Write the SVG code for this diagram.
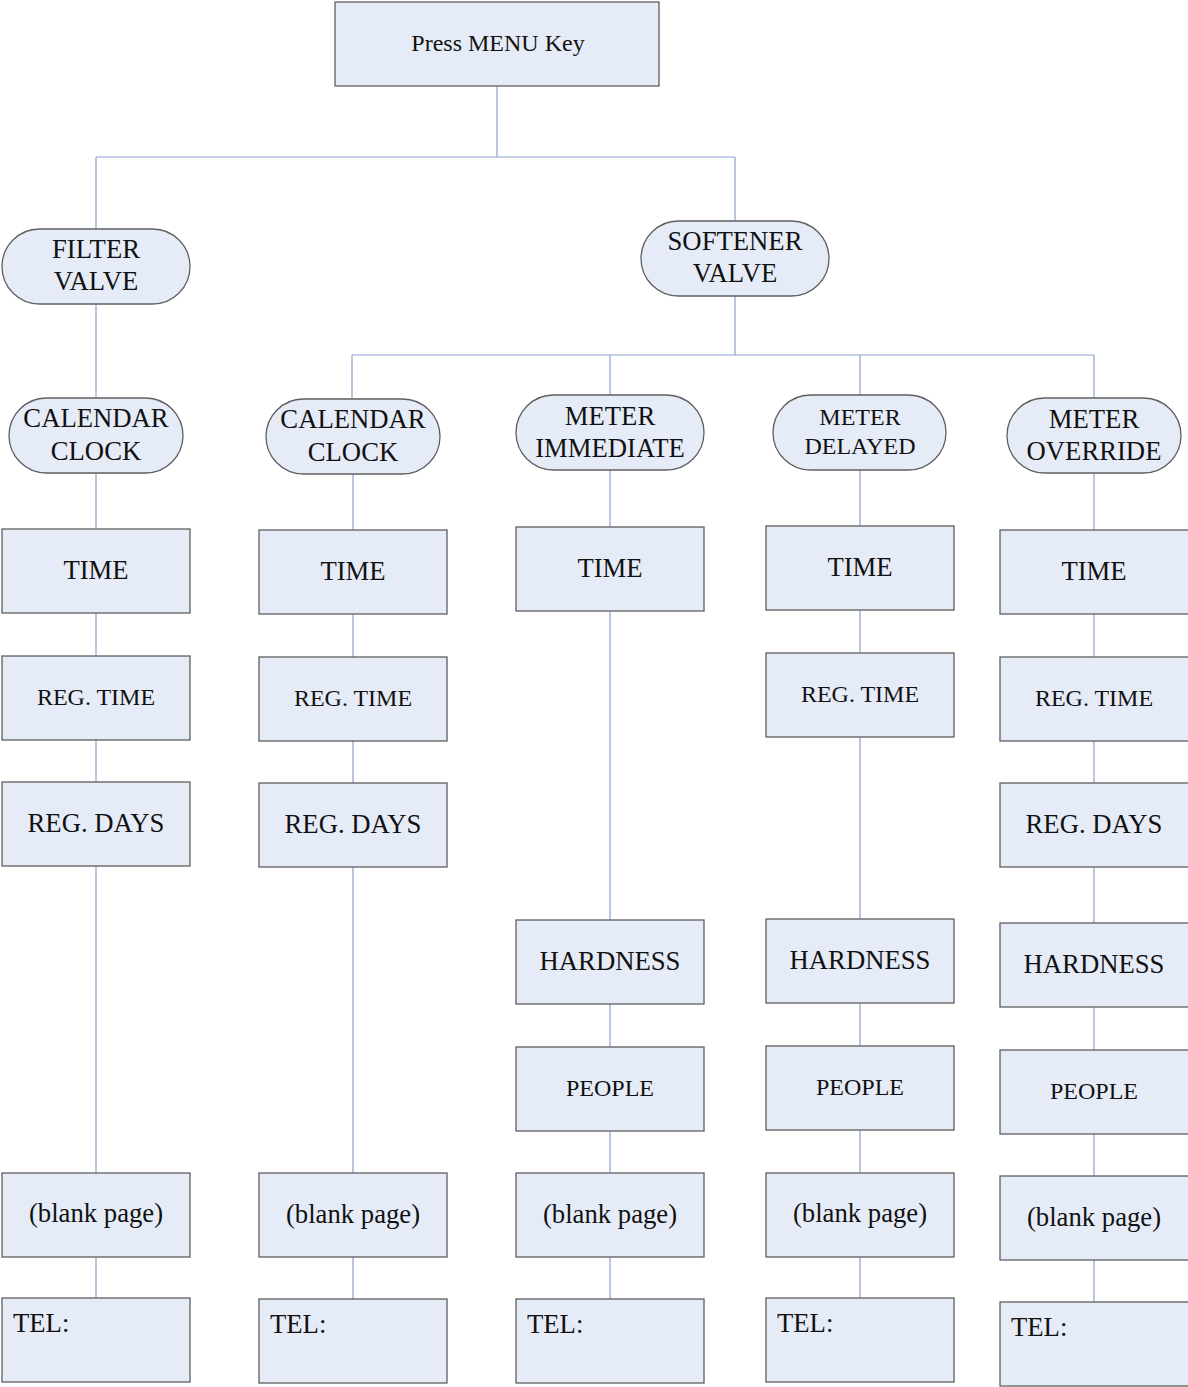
<svg xmlns="http://www.w3.org/2000/svg" width="1188" height="1387" viewBox="0 0 1188 1387">
<style>
.b{fill:#E6ECF7;stroke:#5F5F5F;stroke-width:1.3}
.t{font-family:"Liberation Serif","Times New Roman",serif;font-size:26.7px;fill:#111;text-anchor:middle}
.s{font-size:24px}
.l{text-anchor:start}
.c{stroke:#8EA2CF;stroke-width:1.2;fill:none}
</style>
<rect width="1188" height="1387" fill="#fff"/>
<g id="connectors">
<path class="c" d="M497 86V157M96 157H735M96 157V229M735 157V221"/>
<path class="c" d="M96 304V398M735 296V355M352 355H1094M352 355V399M610 355V395M860 355V395M1094 355V398"/>
<path class="c" d="M96 473V529M96 613V656M96 740V782M96 866V1173M96 1257V1298"/>
<path class="c" d="M353 474V530M353 614V657M353 741V783M353 867V1173M353 1257V1299"/>
<path class="c" d="M610 470V527M610 611V920M610 1004V1047M610 1131V1173M610 1257V1299"/>
<path class="c" d="M860 470V526M860 610V653M860 737V919M860 1003V1046M860 1130V1173M860 1257V1298"/>
<path class="c" d="M1094 473V530M1094 614V657M1094 741V783M1094 867V923M1094 1007V1050M1094 1134V1176M1094 1260V1302"/>
</g>
<g id="menu"><rect class="b" x="335" y="2" width="324" height="84"/><text class="t s" x="498" y="51">Press MENU Key</text></g>
<g id="filter"><rect class="b" x="2" y="229" width="188" height="75" rx="37.5"/><text class="t" x="96" y="258">FILTER</text><text class="t" x="96" y="290">VALVE</text></g>
<g id="softener"><rect class="b" x="641" y="221" width="188" height="75" rx="37.5"/><text class="t" x="735" y="250">SOFTENER</text><text class="t" x="735" y="282">VALVE</text></g>
<g id="cal1"><rect class="b" x="9" y="398" width="174" height="75" rx="37.5"/><text class="t" x="96" y="427">CALENDAR</text><text class="t" x="96" y="460">CLOCK</text></g>
<g id="cal2"><rect class="b" x="266" y="399" width="174" height="75" rx="37.5"/><text class="t" x="353" y="428">CALENDAR</text><text class="t" x="353" y="461">CLOCK</text></g>
<g id="metimm"><rect class="b" x="516" y="395" width="188" height="75" rx="37.5"/><text class="t" x="610" y="425">METER</text><text class="t" x="610" y="457">IMMEDIATE</text></g>
<g id="metdel"><rect class="b" x="773" y="395" width="173" height="75" rx="37.5"/><text class="t s" x="860" y="425">METER</text><text class="t s" x="860" y="454">DELAYED</text></g>
<g id="metovr"><rect class="b" x="1007" y="398" width="174" height="75" rx="37.5"/><text class="t" x="1094" y="428">METER</text><text class="t" x="1094" y="460">OVERRIDE</text></g>

<g id="c1time"><rect class="b" x="2" y="529" width="188" height="84"/><text class="t" x="96" y="579">TIME</text></g>
<g id="c1reg"><rect class="b" x="2" y="656" width="188" height="84"/><text class="t s" x="96" y="705">REG. TIME</text></g>
<g id="c1days"><rect class="b" x="2" y="782" width="188" height="84"/><text class="t" x="96" y="832">REG. DAYS</text></g>
<g id="c1blank"><rect class="b" x="2" y="1173" width="188" height="84"/><text class="t" x="96" y="1222">(blank page)</text></g>
<g id="c1tel"><rect class="b" x="2" y="1298" width="188" height="84"/><text class="t l" x="13" y="1332">TEL:</text></g>

<g id="c2time"><rect class="b" x="259" y="530" width="188" height="84"/><text class="t" x="353" y="580">TIME</text></g>
<g id="c2reg"><rect class="b" x="259" y="657" width="188" height="84"/><text class="t s" x="353" y="706">REG. TIME</text></g>
<g id="c2days"><rect class="b" x="259" y="783" width="188" height="84"/><text class="t" x="353" y="833">REG. DAYS</text></g>
<g id="c2blank"><rect class="b" x="259" y="1173" width="188" height="84"/><text class="t" x="353" y="1223">(blank page)</text></g>
<g id="c2tel"><rect class="b" x="259" y="1299" width="188" height="84"/><text class="t l" x="270" y="1333">TEL:</text></g>

<g id="c3time"><rect class="b" x="516" y="527" width="188" height="84"/><text class="t" x="610" y="577">TIME</text></g>
<g id="c3hard"><rect class="b" x="516" y="920" width="188" height="84"/><text class="t" x="610" y="970">HARDNESS</text></g>
<g id="c3people"><rect class="b" x="516" y="1047" width="188" height="84"/><text class="t s" x="610" y="1096">PEOPLE</text></g>
<g id="c3blank"><rect class="b" x="516" y="1173" width="188" height="84"/><text class="t" x="610" y="1223">(blank page)</text></g>
<g id="c3tel"><rect class="b" x="516" y="1299" width="188" height="84"/><text class="t l" x="527" y="1333">TEL:</text></g>

<g id="c4time"><rect class="b" x="766" y="526" width="188" height="84"/><text class="t" x="860" y="576">TIME</text></g>
<g id="c4reg"><rect class="b" x="766" y="653" width="188" height="84"/><text class="t s" x="860" y="702">REG. TIME</text></g>
<g id="c4hard"><rect class="b" x="766" y="919" width="188" height="84"/><text class="t" x="860" y="969">HARDNESS</text></g>
<g id="c4people"><rect class="b" x="766" y="1046" width="188" height="84"/><text class="t s" x="860" y="1095">PEOPLE</text></g>
<g id="c4blank"><rect class="b" x="766" y="1173" width="188" height="84"/><text class="t" x="860" y="1222">(blank page)</text></g>
<g id="c4tel"><rect class="b" x="766" y="1298" width="188" height="84"/><text class="t l" x="777" y="1332">TEL:</text></g>

<g id="c5time"><rect class="b" x="1000" y="530" width="190" height="84"/><text class="t" x="1094" y="580">TIME</text></g>
<g id="c5reg"><rect class="b" x="1000" y="657" width="190" height="84"/><text class="t s" x="1094" y="706">REG. TIME</text></g>
<g id="c5days"><rect class="b" x="1000" y="783" width="190" height="84"/><text class="t" x="1094" y="833">REG. DAYS</text></g>
<g id="c5hard"><rect class="b" x="1000" y="923" width="190" height="84"/><text class="t" x="1094" y="973">HARDNESS</text></g>
<g id="c5people"><rect class="b" x="1000" y="1050" width="190" height="84"/><text class="t s" x="1094" y="1099">PEOPLE</text></g>
<g id="c5blank"><rect class="b" x="1000" y="1176" width="190" height="84"/><text class="t" x="1094" y="1226">(blank page)</text></g>
<g id="c5tel"><rect class="b" x="1000" y="1302" width="190" height="84"/><text class="t l" x="1011" y="1336">TEL:</text></g>
</svg>
